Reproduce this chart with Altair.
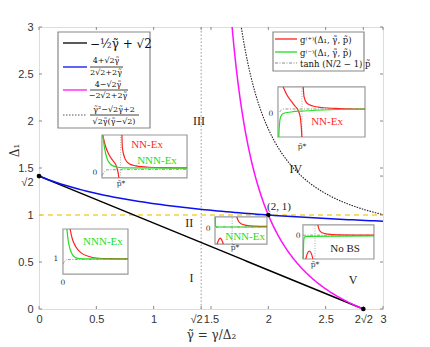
import numpy as np
import pandas as pd
import altair as alt

S2 = np.sqrt(2)
W, H = 344, 282

# ---------------- main curves (analytic, as stated in the legend) ----------
xb = np.linspace(0, 2 * S2, 60)
yb = -0.5 * xb + S2
xl = np.linspace(0, 3, 80)
yl = (4 + S2 * xl) / (2 * S2 + 2 * xl)
xm = np.linspace(1.62, 2 * S2, 120)
ym = (4 - S2 * xm) / (-2 * S2 + 2 * xm)
xd = np.linspace(1.70, 3, 120)
yd = (xd**2 - S2 * xd + 2) / (S2 * xd * (xd - S2))

BLACK, BLUE, MAGENTA = "#000000", "#0a10f0", "#ff10ff"
RED, GREEN = "#ff2020", "#20e020"

curves = pd.concat([
    pd.DataFrame({"x": xb, "y": yb, "k": BLACK}),
    pd.DataFrame({"x": xl, "y": yl, "k": BLUE}),
    pd.DataFrame({"x": xm, "y": ym, "k": MAGENTA}),
])
dotted = pd.DataFrame({"x": xd, "y": yd})

pts_x = [0, 2, 2 * S2]
pts_y = [S2, 1, 0]

# ---------------- insets (box in data units, curves in local 0..1) ---------
insets = [
    dict(box=(0.549, 1.291, 1.394, 1.851), pstar=0.22,
         red=[[(0.01, 1), (0.04, 0.75), (0.08, 0.55), (0.13, 0.4), (0.17, 0.27), (0.19, 0.12), (0.2, 0)],
              [(0.235, 1), (0.24, 0.7), (0.27, 0.45), (0.32, 0.33), (0.4, 0.28), (0.55, 0.25), (0.75, 0.24), (1, 0.235)]],
         green=[(0.01, 1), (0.03, 0.7), (0.06, 0.45), (0.1, 0.32), (0.16, 0.26), (0.25, 0.235), (1, 0.23)],
         gray=[(0.0, 0.05), (0.03, 0.15), (0.06, 0.19), (1, 0.2)]),
    dict(box=(2.084, 2.843, 1.830, 2.362), pstar=0.276,
         red=[[(0.06, 1), (0.1, 0.85), (0.15, 0.72), (0.2, 0.61), (0.24, 0.5), (0.26, 0.35), (0.27, 0.15), (0.275, 0)],
              [(0.29, 1), (0.3, 0.8), (0.33, 0.68), (0.4, 0.62), (0.5, 0.59), (0.7, 0.57), (1, 0.56)]],
         green=[(0.01, 0), (0.015, 0.2), (0.03, 0.4), (0.06, 0.47), (0.15, 0.5), (0.3, 0.52), (0.6, 0.545), (1, 0.56)],
         gray=[(0.02, 0.5), (0.06, 0.56), (1, 0.56)]),
    dict(box=(1.535, 1.988, 0.691, 0.979), pstar=0.33,
         red=[[(0.42, 1), (0.45, 0.85), (0.5, 0.75), (0.6, 0.69), (0.75, 0.66), (1, 0.65)],
              [(0.04, 0), (0.07, 0.15), (0.1, 0.22), (0.13, 0.15), (0.16, 0)]],
         green=[(0.005, 1), (0.01, 0.66), (0.05, 0.63), (1, 0.63)],
         gray=[(0.02, 0.6), (0.06, 0.63), (1, 0.63)]),
    dict(box=(0.209, 0.776, 0.372, 0.851), pstar=None,
         red=[[(0.11, 1), (0.14, 0.8), (0.2, 0.6), (0.28, 0.47), (0.4, 0.39), (0.55, 0.35), (0.75, 0.34), (1, 0.335)]],
         green=[(0.06, 1), (0.08, 0.75), (0.11, 0.55), (0.15, 0.42), (0.2, 0.36), (0.3, 0.335), (1, 0.33)],
         gray=[(0.0, 0.22), (0.03, 0.29), (0.06, 0.32), (1, 0.33)]),
    dict(box=(2.302, 2.921, 0.532, 0.894), pstar=0.17,
         red=[[(0.21, 1), (0.23, 0.85), (0.27, 0.77), (0.35, 0.73), (0.5, 0.71), (1, 0.70)],
              [(0.04, 0), (0.06, 0.15), (0.09, 0.235), (0.12, 0.15), (0.14, 0)]],
         green=[(0.005, 0), (0.01, 0.5), (0.02, 0.64), (0.05, 0.665), (1, 0.675)],
         gray=[(0.0, 0.7), (1, 0.7)]),
]

box_rows, line_rows, pstar_rows = [], [], []
for i, ins in enumerate(insets):
    x0, x1, y0, y1 = ins["box"]
    box_rows.append({"x": x0, "x2": x1, "y": y0, "y2": y1})
    def add(pts, color, sid):
        for j, (u, v) in enumerate(pts):
            line_rows.append({"x": x0 + u * (x1 - x0), "y": y0 + v * (y1 - y0),
                              "c": color, "s": f"{i}-{sid}", "o": j})
    for r, seg in enumerate(ins["red"]):
        add(seg, RED, f"r{r}")
    add(ins["green"], GREEN, "g")
    add(ins["gray"], "gray", "k")
    if ins["pstar"] is not None:
        px = x0 + ins["pstar"] * (x1 - x0)
        pstar_rows.append({"x": px, "y": y0, "y2": y1})

boxes = pd.DataFrame(box_rows)
ilines = pd.DataFrame(line_rows)
pstars = pd.DataFrame(pstar_rows)

# ---------------- text annotations (data units) ----------------
roman = pd.DataFrame({"x": [1.33, 1.31, 1.395, 2.24, 2.74], "y": [0.33, 0.915, 2.0, 1.49, 0.31],
                      "t": ["I", "II", "III", "IV", "V"]})
ilabels = pd.DataFrame({
    "x": [0.942, 1.029, 2.512, 1.797, 0.558, 2.669],
    "y": [1.745, 1.574, 1.989, 0.766, 0.713, 0.638],
    "t": ["NN-Ex", "NNN-Ex", "NN-Ex", "NNN-Ex", "NNN-Ex", "No BS"],
    "c": ["#ff2a2a", "#22e022", "#ff2a2a", "#22e022", "#22e022", "#222222"],
})
small = pd.DataFrame({
    "x": [0.488, 2.023, 1.474, 0.148, 0.209, 2.259, 0.715, 2.294, 1.709, 2.407],
    "y": [1.447, 2.074, 0.851, 0.532, 0.277, 0.777, 1.330, 1.723, 0.649, 0.468],
    "t": ["0", "0", "0", "1", "0", "0", "p\u0303*", "p\u0303*", "p\u0303*", "p\u0303*"],
})

xticks = [0, 0.5, 1, S2, 1.5, 2, 2.5, 2 * S2, 3]
yticks = [0, 0.5, 1, S2, 1.5, 2, 2.5, 3]

lab_expr = ("abs(datum.value-1.41421)<0.001 ? '\u221a2' : "
            "(abs(datum.value-2.82843)<0.001 ? '2\u221a2' : format(datum.value, '~g'))")
is_s2 = "abs(datum.value-1.41421)<0.001"

X = alt.X("x:Q", scale=alt.Scale(domain=[0, 3], nice=False, zero=False),
          axis=alt.Axis(values=xticks, labelExpr=lab_expr, ticks=False, grid=False, domain=False,
                        labelOverlap=False, labelFontSize=11, labelColor="#333", labelPadding=4,
                        labelFont="Liberation Sans",
                        labelAlign={"condition": {"test": is_s2, "value": "right"}, "value": "center"},
                        labelOffset={"condition": {"test": is_s2, "value": 1}, "value": 0},
                        title="\u03b3\u0303 = \u03b3/\u0394\u2082", titleFont="DejaVu Serif",
                        titleFontWeight="normal", titleFontSize=12, titleColor="#333", titlePadding=5))
Y = alt.Y("y:Q", scale=alt.Scale(domain=[0, 3], nice=False, zero=False),
          axis=alt.Axis(values=yticks, labelExpr=lab_expr, ticks=False, grid=False, domain=False,
                        labelOverlap=False, labelFontSize=11, labelColor="#333", labelPadding=6,
                        labelFont="Liberation Sans",
                        labelBaseline={"condition": {"test": is_s2, "value": "top"}, "value": "middle"},
                        title="\u0394\u2081", titleFont="DejaVu Serif", titleFontWeight="normal",
                        titleFontSize=12, titleColor="#333", titleX=-25, titleY=123,
                        titleBaseline="middle", titleAlign="center", titleAngle=270))

one = pd.DataFrame({"a": [0]})

layers = []
# frame ticks (inside)
tx = pd.DataFrame({"x": xticks})
ty = pd.DataFrame({"y": yticks})
layers.append(alt.Chart(tx).mark_rule(color="#888", strokeWidth=1).encode(x=X, y=alt.value(H), y2=alt.value(H - 3)))
layers.append(alt.Chart(tx).mark_rule(color="#888", strokeWidth=1).encode(x="x:Q", y=alt.value(0), y2=alt.value(3)))
layers.append(alt.Chart(ty).mark_rule(color="#888", strokeWidth=1).encode(y=Y, x=alt.value(0), x2=alt.value(3)))
layers.append(alt.Chart(ty).mark_rule(color="#888", strokeWidth=1).encode(y="y:Q", x=alt.value(W), x2=alt.value(W - 3)))

# vertical dotted at sqrt2 and yellow dashed at 1
layers.append(alt.Chart(pd.DataFrame({"x": [S2], "y": [0], "y2": [3]})).mark_rule(
    color="#999", strokeDash=[1.5, 2], strokeWidth=1).encode(x="x:Q", y="y:Q", y2="y2:Q"))
layers.append(alt.Chart(pd.DataFrame({"x": [0], "x2": [3], "y": [1]})).mark_rule(
    color="#f5d23c", strokeDash=[5, 4], strokeWidth=1.5).encode(x="x:Q", x2="x2:Q", y="y:Q"))

# main curves
layers.append(alt.Chart(dotted).mark_line(color="#222", strokeDash=[1.5, 1.2], strokeWidth=1.1, clip=True).encode(x="x:Q", y="y:Q"))
layers.append(alt.Chart(curves).mark_line(strokeWidth=1.5, clip=True).encode(
    x="x:Q", y="y:Q", detail="k:N", color=alt.Color("k:N", scale=None)))
layers.append(alt.Chart(pd.DataFrame({"x": pts_x, "y": pts_y})).mark_circle(
    color="black", size=22, opacity=1, clip=False).encode(x="x:Q", y="y:Q"))

# insets
layers.append(alt.Chart(boxes).mark_rect(fill="white", stroke="#999", strokeWidth=1.2).encode(
    x="x:Q", x2="x2:Q", y="y:Q", y2="y2:Q"))
layers.append(alt.Chart(pstars).mark_rule(color="#aaa", strokeDash=[1, 1.5], strokeWidth=1).encode(
    x="x:Q", y="y:Q", y2="y2:Q"))
layers.append(alt.Chart(ilines[ilines.c == "gray"]).mark_line(
    color="#999", strokeDash=[3, 1.5, 1, 1.5], strokeWidth=1, interpolate="monotone").encode(
    x="x:Q", y="y:Q", detail="s:N", order="o:Q"))
layers.append(alt.Chart(ilines[ilines.c != "gray"]).mark_line(strokeWidth=1.2, interpolate="monotone").encode(
    x="x:Q", y="y:Q", detail="s:N", order="o:Q", color=alt.Color("c:N", scale=None)))

# annotations
layers.append(alt.Chart(roman).mark_text(font="Liberation Serif", fontSize=12, color="#222").encode(
    x="x:Q", y="y:Q", text="t:N"))
layers.append(alt.Chart(pd.DataFrame({"x": [2.093], "y": [1.085], "t": ["(2, 1)"]})).mark_text(
    font="Liberation Serif", fontSize=11, color="#222").encode(x="x:Q", y="y:Q", text="t:N"))
layers.append(alt.Chart(ilabels).mark_text(font="Liberation Serif", fontSize=11).encode(
    x="x:Q", y="y:Q", text="t:N", color=alt.Color("c:N", scale=None)))
layers.append(alt.Chart(small).mark_text(font="DejaVu Serif", fontSize=7.5, color="#333").encode(
    x="x:Q", y="y:Q", text="t:N"))

# ---------------- left legend (pixel layout inside the plot) ----------------
def box(x0, x1, y0, y1):
    return alt.Chart(one).mark_rect(fill="white", stroke="#888", strokeWidth=1.2).encode(
        x=alt.value(x0), x2=alt.value(x1), y=alt.value(y0), y2=alt.value(y1))

def hline(x0, x1, y, color, dash=None, w=1.3):
    kw = dict(color=color, strokeWidth=w)
    if dash:
        kw["strokeDash"] = dash
    return alt.Chart(one).mark_rule(**kw).encode(x=alt.value(x0), x2=alt.value(x1), y=alt.value(y))

def txt(x, y, t, size, align="left", color="#111"):
    return alt.Chart(one).mark_text(text=t, font="DejaVu Serif", fontSize=size, align=align,
                                    baseline="middle", color=color).encode(x=alt.value(x), y=alt.value(y))

layers.append(box(19, 111, 5, 101))
layers.append(hline(24, 48, 16, BLACK))
layers.append(txt(51, 17, "\u2212\u00bd\u03b3\u0303 + \u221a2", 12))
layers.append(hline(24, 48, 40, BLUE))
layers.append(txt(67, 34, "4+\u221a2\u03b3\u0303", 8, "center"))
layers.append(hline(51, 84, 40, "#111", w=0.8))
layers.append(txt(67, 45.5, "2\u221a2+2\u03b3\u0303", 8, "center"))
layers.append(hline(24, 48, 63, MAGENTA))
layers.append(txt(69, 57.5, "4\u2212\u221a2\u03b3\u0303", 8, "center"))
layers.append(hline(51, 89, 63, "#111", w=0.8))
layers.append(txt(69, 69, "\u22122\u221a2+2\u03b3\u0303", 8, "center"))
layers.append(hline(24, 48, 88, "#555", dash=[1.5, 1.5], w=1))
layers.append(txt(75, 82.5, "\u03b3\u0303\u00b2\u2212\u221a2\u03b3\u0303+2", 8, "center"))
layers.append(hline(51, 100, 88, "#111", w=0.8))
layers.append(txt(75, 94.5, "\u221a2\u03b3\u0303(\u03b3\u0303\u2212\u221a2)", 8, "center"))

# ---------------- right legend ----------------
layers.append(box(234, 325, 5, 44))
layers.append(hline(236, 258, 12, RED))
layers.append(txt(261, 12.5, "g\u207d\u207a\u207e(\u0394\u2081, \u03b3\u0303, p\u0303)", 8.5))
layers.append(hline(236, 258, 25, GREEN))
layers.append(txt(261, 25.5, "g\u207d\u207b\u207e(\u0394\u2081, \u03b3\u0303, p\u0303)", 8.5))
layers.append(hline(236, 258, 36, "#888", dash=[3, 1.5, 1, 1.5], w=1))
layers.append(txt(261, 36.5, "tanh (N/2 \u2212 1) p\u0303", 8.5))

chart = alt.layer(*layers).properties(
    width=W, height=H,
    autosize=alt.AutoSizeParams(type="none"),
    padding={"left": 31, "top": 19, "right": 20, "bottom": 38},
).configure_view(stroke="#888", strokeWidth=1.2).configure(background="white")

chart.save("out.html", embed_options={"renderer": "svg", "actions": False})
